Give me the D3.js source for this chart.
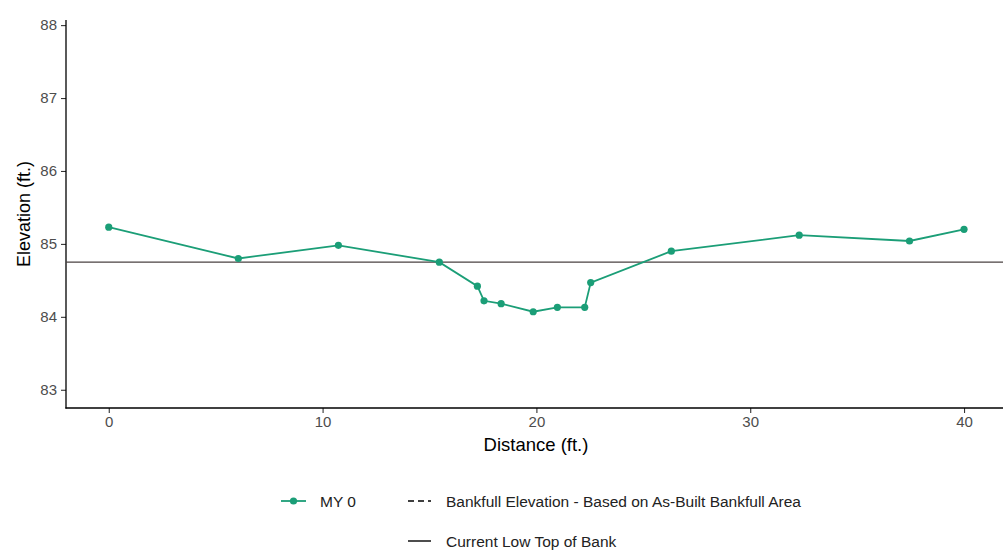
<!DOCTYPE html>
<html><head><meta charset="utf-8">
<script src="https://cdn.jsdelivr.net/npm/d3@7"></script>
<style>
body{margin:0;background:#fff;}
text{font-family:"Liberation Sans",Arial,Helvetica,sans-serif;}
</style></head>
<body><svg id="c" width="1003" height="553"></svg>
<script>
const distance = [0, 6.06, 10.74, 15.46, 17.24, 17.55, 18.35, 19.85, 20.98, 22.26, 22.54, 26.31, 32.29, 37.45, 40];
const elevation = [85.23, 84.80, 84.98, 84.75, 84.42, 84.22, 84.18, 84.07, 84.13, 84.13, 84.47, 84.90, 85.12, 85.04, 85.20];
const seriesName = "MY 0";
const lowTopOfBank = 84.75;
const xTicks = [0, 10, 20, 30, 40];
const yTicks = [83, 84, 85, 86, 87, 88];
const legendLabels = ["MY 0", "Bankfull Elevation - Based on As-Built Bankfull Area", "Current Low Top of Bank"];

const svg = d3.select("#c");
const green = "#1b9e77";
const x = d3.scaleLinear().domain([-2, 42]).range([66, 1006.8]);
const y = d3.scaleLinear().domain([82.75, 88.07]).range([408, 20]);

// y axis
const ya = svg.append("g").attr("transform", "translate(66,0)")
  .call(d3.axisLeft(y).tickValues(yTicks).tickSize(5).tickPadding(4).tickFormat(d3.format("d")));
ya.select(".domain").remove();
ya.selectAll("line").attr("stroke", "#333").attr("stroke-width", 1.1);
ya.selectAll("text").attr("fill", "#4d4d4d").style("font-size", "15px");
svg.append("line").attr("x1", 66).attr("x2", 66).attr("y1", 20).attr("y2", 408.5)
  .attr("stroke", "#000").attr("stroke-width", 1.3);

// x axis
const xa = svg.append("g").attr("transform", "translate(0,408)")
  .call(d3.axisBottom(x).tickValues(xTicks).tickSize(5).tickPadding(3).tickFormat(d3.format("d")));
xa.select(".domain").remove();
xa.selectAll("line").attr("stroke", "#333").attr("stroke-width", 1.1);
xa.selectAll("text").attr("fill", "#4d4d4d").style("font-size", "15px");
svg.append("line").attr("x1", 65.4).attr("x2", 1006.8).attr("y1", 408).attr("y2", 408)
  .attr("stroke", "#000").attr("stroke-width", 1.3);

// titles
svg.append("text").attr("x", 536).attr("y", 451).attr("text-anchor", "middle")
  .style("font-size", "18.5px").attr("fill", "#000").text("Distance (ft.)");
svg.append("text").attr("transform", "translate(30,214) rotate(-90)").attr("text-anchor", "middle")
  .style("font-size", "18px").attr("fill", "#000").text("Elevation (ft.)");

// top of bank line
svg.append("line").attr("x1", 66).attr("x2", 1006.8)
  .attr("y1", y(lowTopOfBank)).attr("y2", y(lowTopOfBank))
  .attr("stroke", "#4a4242").attr("stroke-width", 1.2);

// series
const pts = distance.map((d, i) => ({x: d, y: elevation[i]}));
svg.append("path").datum(pts)
  .attr("d", d3.line().x(d => x(d.x)).y(d => y(d.y)))
  .attr("fill", "none").attr("stroke", green).attr("stroke-width", 1.8);
svg.selectAll("circle.pt").data(pts).enter().append("circle")
  .attr("cx", d => x(d.x)).attr("cy", d => y(d.y)).attr("r", 3.6).attr("fill", green);

// legend
const lg = svg.append("g");
lg.append("line").attr("x1", 281).attr("x2", 306).attr("y1", 501).attr("y2", 501)
  .attr("stroke", green).attr("stroke-width", 1.8);
lg.append("circle").attr("cx", 293.5).attr("cy", 501).attr("r", 3.6).attr("fill", green);
lg.append("text").attr("x", 320).attr("y", 506.5).style("font-size", "15.5px").attr("fill", "#222").text(legendLabels[0]);
lg.append("line").attr("x1", 408).attr("x2", 431).attr("y1", 501).attr("y2", 501)
  .attr("stroke", "#000").attr("stroke-width", 1.4).attr("stroke-dasharray", "6,4");
lg.append("text").attr("x", 446).attr("y", 506.5).style("font-size", "15.5px").attr("fill", "#222").text(legendLabels[1]);
lg.append("line").attr("x1", 408).attr("x2", 431).attr("y1", 541).attr("y2", 541)
  .attr("stroke", "#000").attr("stroke-width", 1.4);
lg.append("text").attr("x", 446).attr("y", 546.5).style("font-size", "15.5px").attr("fill", "#222").text(legendLabels[2]);
</script></body></html>
